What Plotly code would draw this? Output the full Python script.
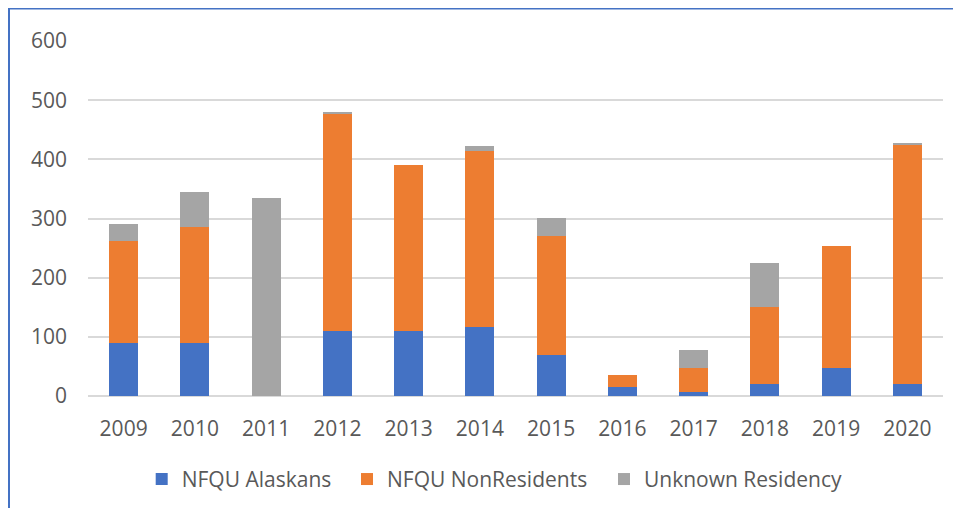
import plotly.graph_objects as go

years = ["2009", "2010", "2011", "2012", "2013", "2014", "2015", "2016", "2017", "2018", "2019", "2020"]
alaskans = [90, 90, 0, 110, 110, 117, 69, 15, 6, 21, 47, 21]
nonresidents = [172, 196, 0, 366, 280, 297, 202, 21, 41, 130, 206, 404]
unknown = [28, 58, 335, 4, 0, 8, 30, 0, 30, 74, 0, 1]
y_ticks = [0, 100, 200, 300, 400, 500, 600]

# page is offset by the default 8px body margin
OFF = 8
W, H = 961 - OFF, 516 - 2 * OFF
L, R, T, B = 88 - OFF, 943 - OFF, 41 - OFF, 396.5 - OFF


def px2x(p):
    return (p - L) / (R - L)


def py2y(p):
    return (B - p) / (B - T)


series = [("NFQU Alaskans", alaskans, "#4472C4", 157.7 - OFF),
          ("NFQU NonResidents", nonresidents, "#ED7D31", 363 - OFF),
          ("Unknown Residency", unknown, "#A5A5A5", 620 - OFF)]

fig = go.Figure()
legends = {}
for i, (name, vals, col, lx) in enumerate(series):
    lg = "legend" if i == 0 else f"legend{i + 1}"
    fig.add_trace(go.Bar(x=years, y=vals, name=name, legend=lg,
                         marker=dict(color=col, line=dict(width=0))))
    legends[lg] = dict(orientation="h", x=px2x(lx - 16), xanchor="left",
                       y=py2y(480 - OFF), yanchor="middle", bgcolor="rgba(0,0,0,0)",
                       font=dict(size=21, color="#595959", family="Open Sans"), itemwidth=30)

fig.add_shape(type="path", xref="paper", yref="paper",
              path=f"M {px2x(1)} {py2y(H + 5)} L {px2x(1)} {py2y(0.5)} L {px2x(W + 5)} {py2y(0.5)}",
              line=dict(color="#4472C4", width=2))

fig.update_layout(
    width=W, height=H,
    margin=dict(l=L, r=W - R, t=T, b=H - B, pad=0, autoexpand=False),
    barmode="stack", bargap=0.59,
    plot_bgcolor="white", paper_bgcolor="white",
    font=dict(family="Open Sans", size=21, color="#595959"),
    showlegend=True,
    xaxis=dict(showgrid=False, showline=False, ticks="", ticklabelstandoff=18, fixedrange=True,
               automargin=False),
    yaxis=dict(range=[0, 600], tickvals=y_ticks, showgrid=True, gridcolor="#D9D9D9", gridwidth=1.5,
               zeroline=True, zerolinecolor="#D9D9D9", zerolinewidth=1.5,
               showline=False, ticks="", ticklabelstandoff=20, automargin=False),
    **legends,
)

fig.write_html("out.html", config={"displayModeBar": False})
